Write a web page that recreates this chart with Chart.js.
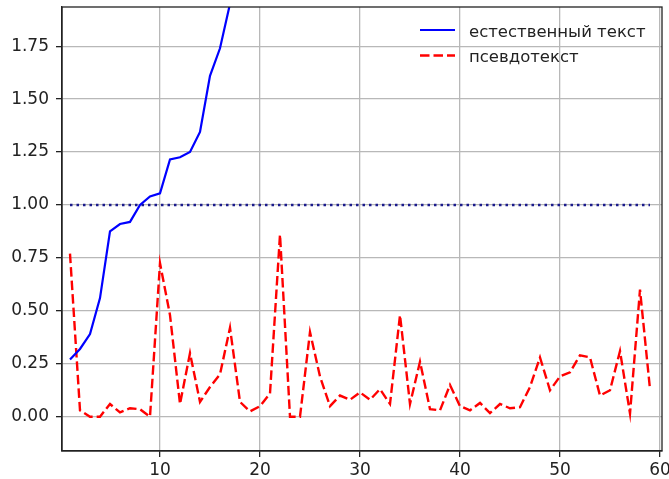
<!DOCTYPE html>
<html><head><meta charset="utf-8">
<script src="https://cdn.jsdelivr.net/npm/chart.js@4/dist/chart.umd.min.js"></script>
<style>html,body{margin:0;padding:0;background:#fff;}#wrap{width:669px;height:479px;}</style>
</head><body><div id="wrap"><canvas id="c" width="669" height="479"></canvas></div>
<script>
// ---- data ----
const naturalX = [1,2,3,4,5,6,7,8,9,10,11,12,13,14,15,16,17];
const naturalText = [0.27,0.32,0.39,0.56,0.875,0.91,0.92,1.00,1.04,1.055,1.215,1.225,1.25,1.345,1.61,1.74,1.95];
const pseudoX = [1,2,3,4,5,6,7,8,9,10,11,12,13,14,15,16,17,18,19,20,21,22,23,24,25,26,27,28,29,30,31,32,33,34,35,36,37,38,39,40,41,42,43,44,45,46,47,48,49,50,51,52,53,54,55,56,57,58,59];
const pseudoText = [0.77,0.03,0.0,0.0,0.06,0.02,0.04,0.035,0.0,0.725,
                    0.48,0.06,0.30,0.07,0.14,0.20,0.42,0.07,0.025,0.05,
                    0.11,0.86,0.0,0.0,0.40,0.19,0.05,0.10,0.08,0.115,
                    0.08,0.13,0.06,0.48,0.06,0.26,0.036,0.03,0.15,0.05,
                    0.03,0.065,0.017,0.06,0.04,0.045,0.14,0.28,0.125,0.19,
                    0.21,0.29,0.28,0.10,0.125,0.31,0.015,0.60,0.13];
const refX = [1, 59];
const refY = [1.0, 1.0];
const seriesLabels = ['естественный текст', 'псевдотекст'];
const xTicks = [10,20,30,40,50,60];
const yTicks = [0,0.25,0.5,0.75,1.0,1.25,1.5,1.75];
const xRange = [0.2, 60.2];
const yRange = [-0.162, 1.935];

const FONT = "'DejaVu Sans', sans-serif";
const toPts = (xs, ys) => xs.map((x, i) => ({x: x, y: ys[i]}));

const framePlugin = {
  id: 'frameAndLegend',
  afterDraw(chart) {
    const ctx = chart.ctx;
    const {left, top, right, bottom} = chart.chartArea;
    ctx.save();
    ctx.strokeStyle = '#222';
    ctx.lineWidth = 1.3;
    ctx.strokeRect(left, top, right - left, bottom - top);
    const items = chart.data.datasets.filter(d => d.inLegend);
    items.forEach((ds, i) => {
      const y = top + 23 + i * 25.5;
      ctx.beginPath();
      ctx.strokeStyle = ds.borderColor;
      ctx.lineWidth = ds.borderWidth;
      ctx.setLineDash(ds.borderDash || []);
      ctx.moveTo(right - 242, y);
      ctx.lineTo(right - 207, y);
      ctx.stroke();
      ctx.setLineDash([]);
      ctx.fillStyle = '#222';
      ctx.font = '16.5px ' + FONT;
      ctx.textBaseline = 'alphabetic';
      ctx.textAlign = 'left';
      ctx.fillText(ds.label, right - 193, y + 6.5);
    });
    ctx.restore();
  }
};

new Chart(document.getElementById('c'), {
  type: 'line',
  data: {
    datasets: [
      {label: seriesLabels[0], inLegend: true, data: toPts(naturalX, naturalText),
       borderColor: '#0000ff', borderWidth: 2.2, pointRadius: 0, tension: 0, clip: 0},
      {label: seriesLabels[1], inLegend: true, data: toPts(pseudoX, pseudoText),
       borderColor: '#ff0000', borderWidth: 2.4, borderDash: [9.5, 4], pointRadius: 0, tension: 0, clip: 0},
      {label: 'ref', inLegend: false, data: toPts(refX, refY),
       borderColor: '#1a1a8c', borderWidth: 2.5, borderDash: [2.5, 4], pointRadius: 0, tension: 0, clip: 0}
    ]
  },
  options: {
    responsive: false,
    animation: false,
    layout: {padding: {left: 0, top: 7, right: 7, bottom: 0}},
    plugins: {legend: {display: false}, tooltip: {enabled: false}},
    scales: {
      x: {
        type: 'linear', min: xRange[0], max: xRange[1],
        afterBuildTicks: a => { a.ticks = xTicks.map(v => ({value: v})); },
        afterFit: a => { a.height = 28; a.paddingLeft = 0; a.paddingRight = 0; },
        grid: {color: '#b8b8b8', lineWidth: 1.3, tickLength: 6, tickColor: '#222', tickWidth: 1.3},
        border: {color: '#222', width: 1.3},
        ticks: {font: {family: FONT, size: 17}, color: '#222', padding: 3, maxRotation: 0, autoSkip: false,
                callback: v => String(v)}
      },
      y: {
        type: 'linear', min: yRange[0], max: yRange[1],
        afterBuildTicks: a => { a.ticks = yTicks.map(v => ({value: v})); },
        afterFit: a => { a.width = 62; a.paddingTop = 0; a.paddingBottom = 0; },
        grid: {color: '#b8b8b8', lineWidth: 1.3, tickLength: 6, tickColor: '#222', tickWidth: 1.3},
        border: {color: '#222', width: 1.3},
        ticks: {font: {family: FONT, size: 17}, color: '#222', padding: 7, autoSkip: false,
                callback: v => v.toFixed(2)}
      }
    }
  },
  plugins: [framePlugin]
});
</script>
</body></html>
